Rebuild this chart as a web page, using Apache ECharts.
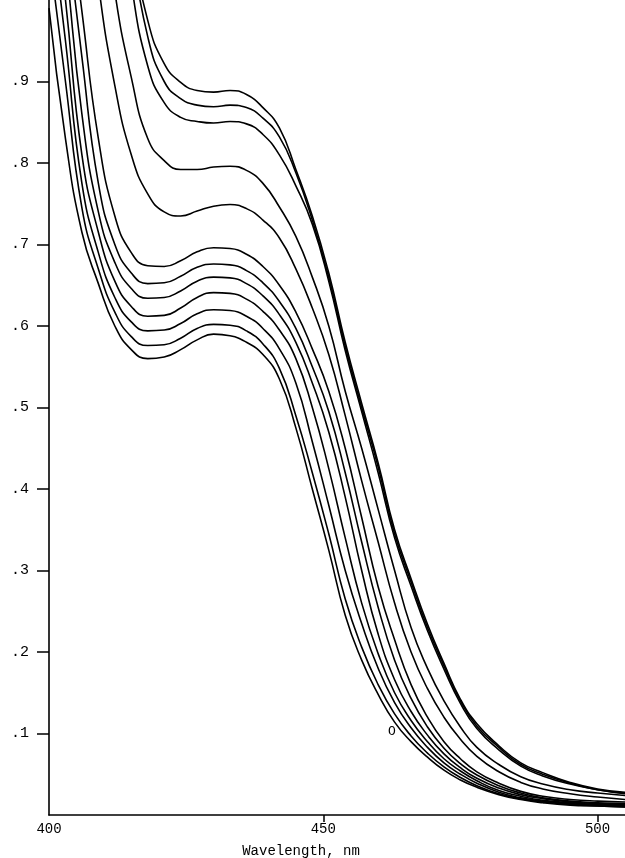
<!DOCTYPE html>
<html>
<head>
<meta charset="utf-8">
<script src="https://cdn.jsdelivr.net/npm/echarts@6/dist/echarts.min.js"></script>
<style>
  html, body { margin: 0; padding: 0; background: #fff; }
  #chart { width: 625px; height: 858px; }
</style>
</head>
<body>
<div id="chart"></div>
<script>
// wavelength grid (nm)
const wavelength = [400, 403, 406, 409, 412, 415, 418, 421, 424, 427, 430, 433, 436, 439, 442, 445,
  448, 451, 454, 457, 460, 463, 466, 469, 472, 475, 478, 482, 486, 490, 495, 500, 505];

// absorbance traces, top to bottom (values above 1 run off the top of the plot)
const trace1 = [1.9, 1.75, 1.6, 1.42, 1.25, 1.08, 0.975, 0.922, 0.899, 0.889, 0.887, 0.889, 0.884, 0.868, 0.843, 0.792,
  0.735, 0.665, 0.58, 0.505, 0.432, 0.35, 0.29, 0.234, 0.186, 0.142, 0.112, 0.085, 0.064, 0.052, 0.04, 0.032, 0.028];
const trace2 = [1.85, 1.7, 1.55, 1.38, 1.22, 1.07, 0.955, 0.9, 0.879, 0.871, 0.869, 0.871, 0.868, 0.855, 0.832, 0.788,
  0.73, 0.66, 0.575, 0.5, 0.427, 0.345, 0.286, 0.23, 0.183, 0.14, 0.109, 0.083, 0.062, 0.05, 0.039, 0.031, 0.027];
const trace3 = [1.8, 1.65, 1.5, 1.33, 1.17, 1.02, 0.919, 0.874, 0.856, 0.851, 0.849, 0.851, 0.848, 0.835, 0.81, 0.772,
  0.725, 0.655, 0.57, 0.495, 0.42, 0.34, 0.281, 0.226, 0.179, 0.137, 0.106, 0.08, 0.06, 0.048, 0.038, 0.031, 0.026];
const trace4 = [1.65, 1.5, 1.33, 1.17, 1.01, 0.905, 0.83, 0.803, 0.792, 0.792, 0.795, 0.796, 0.791, 0.775, 0.746, 0.71,
  0.66, 0.6, 0.52, 0.45, 0.375, 0.3, 0.23, 0.18, 0.14, 0.108, 0.083, 0.062, 0.047, 0.038, 0.031, 0.027, 0.024];
const trace5 = [1.5, 1.35, 1.2, 1.02, 0.895, 0.81, 0.762, 0.74, 0.735, 0.741, 0.747, 0.749, 0.744, 0.73, 0.708, 0.67,
  0.622, 0.565, 0.49, 0.41, 0.335, 0.26, 0.2, 0.155, 0.12, 0.093, 0.072, 0.053, 0.04, 0.032, 0.026, 0.022, 0.019];
const trace6 = [1.32, 1.15, 0.986, 0.83, 0.735, 0.69, 0.674, 0.673, 0.68, 0.691, 0.696, 0.695, 0.688, 0.673, 0.65, 0.617,
  0.572, 0.52, 0.45, 0.365, 0.28, 0.215, 0.16, 0.12, 0.09, 0.069, 0.053, 0.039, 0.029, 0.023, 0.019, 0.017, 0.016];
const trace7 = [1.27, 1.1, 0.93, 0.775, 0.7, 0.665, 0.652, 0.653, 0.661, 0.672, 0.676, 0.675, 0.668, 0.653, 0.63, 0.597,
  0.55, 0.495, 0.42, 0.335, 0.255, 0.19, 0.143, 0.108, 0.082, 0.063, 0.049, 0.036, 0.027, 0.021, 0.017, 0.015, 0.014];
const trace8 = [1.22, 1.05, 0.86, 0.74, 0.678, 0.646, 0.634, 0.635, 0.643, 0.655, 0.66, 0.659, 0.652, 0.637, 0.614, 0.58,
  0.53, 0.47, 0.39, 0.3, 0.222, 0.166, 0.127, 0.098, 0.075, 0.058, 0.045, 0.033, 0.025, 0.02, 0.016, 0.014, 0.013];
const trace9 = [1.17, 1.0, 0.81, 0.715, 0.655, 0.624, 0.612, 0.613, 0.622, 0.635, 0.641, 0.64, 0.633, 0.618, 0.595, 0.56,
  0.5, 0.425, 0.34, 0.26, 0.198, 0.15, 0.116, 0.09, 0.069, 0.054, 0.042, 0.03, 0.023, 0.018, 0.015, 0.013, 0.012];
const trace10 = [1.12, 0.95, 0.775, 0.69, 0.635, 0.605, 0.594, 0.595, 0.603, 0.615, 0.62, 0.619, 0.612, 0.597, 0.572, 0.53,
  0.458, 0.38, 0.3, 0.235, 0.18, 0.138, 0.107, 0.083, 0.064, 0.05, 0.039, 0.028, 0.021, 0.017, 0.014, 0.012, 0.011];
const trace11 = [1.06, 0.9, 0.745, 0.67, 0.617, 0.587, 0.576, 0.577, 0.585, 0.597, 0.602, 0.601, 0.594, 0.578, 0.548, 0.49,
  0.42, 0.345, 0.265, 0.206, 0.16, 0.124, 0.097, 0.076, 0.059, 0.046, 0.036, 0.026, 0.02, 0.016, 0.013, 0.011, 0.01];
const trace12 = [0.99, 0.83, 0.715, 0.652, 0.6, 0.571, 0.56, 0.562, 0.571, 0.583, 0.59, 0.588, 0.58, 0.565, 0.535, 0.475,
  0.4, 0.325, 0.245, 0.19, 0.148, 0.114, 0.09, 0.071, 0.055, 0.043, 0.034, 0.025, 0.019, 0.015, 0.012, 0.011, 0.01];

const traces = [trace1, trace2, trace3, trace4, trace5, trace6, trace7, trace8, trace9, trace10, trace11, trace12];
const xLabels = [400, 450, 500];
const xTickMarks = [450, 500];
const yTicks = [0.1, 0.2, 0.3, 0.4, 0.5, 0.6, 0.7, 0.8, 0.9];

const mono = "'Liberation Mono', 'DejaVu Sans Mono', monospace";

const chart = echarts.init(document.getElementById('chart'), null, { renderer: 'canvas' });

chart.setOption({
  animation: false,
  backgroundColor: '#fff',
  grid: { left: 49, right: 0, top: 0, bottom: 43, outerBoundsMode: 'none' },
  xAxis: {
    type: 'value',
    min: 400,
    max: 505,
    interval: 50,
    name: 'Wavelength, nm',
    nameLocation: 'middle',
    nameGap: 29,
    nameTextStyle: { fontFamily: mono, fontSize: 14, color: '#000', padding: [0, 72, 0, 0] },
    axisLine: { lineStyle: { color: '#000', width: 1.6 } },
    axisTick: { show: true, length: 7, customValues: xTickMarks, lineStyle: { color: '#000', width: 1.5 } },
    axisLabel: {
      fontFamily: mono, fontSize: 14, color: '#000', margin: 7,
      customValues: xLabels,
      formatter: v => String(v)
    },
    splitLine: { show: false }
  },
  yAxis: {
    type: 'value',
    min: 0,
    max: 1.0,
    interval: 0.1,
    axisLine: { show: true, lineStyle: { color: '#000', width: 1.6 } },
    axisTick: { show: true, length: 12, customValues: yTicks, lineStyle: { color: '#000', width: 1.5 } },
    axisLabel: {
      fontFamily: mono, fontSize: 15, color: '#000', margin: 20,
      customValues: yTicks,
      formatter: v => '.' + Math.round(v * 10)
    },
    splitLine: { show: false }
  },
  graphic: [
    { type: 'text', left: 388, top: 725, style: { text: 'O', font: "13px 'Liberation Mono'", fill: '#000' } }
  ],
  series: traces.map((t, i) => ({
    type: 'line',
    name: 'trace' + (i + 1),
    data: wavelength.map((w, j) => [w, t[j]]),
    smooth: 0.5,
    symbol: 'none',
    clip: true,
    silent: true,
    lineStyle: { color: '#000', width: 1.6 }
  }))
});
</script>
</body>
</html>
